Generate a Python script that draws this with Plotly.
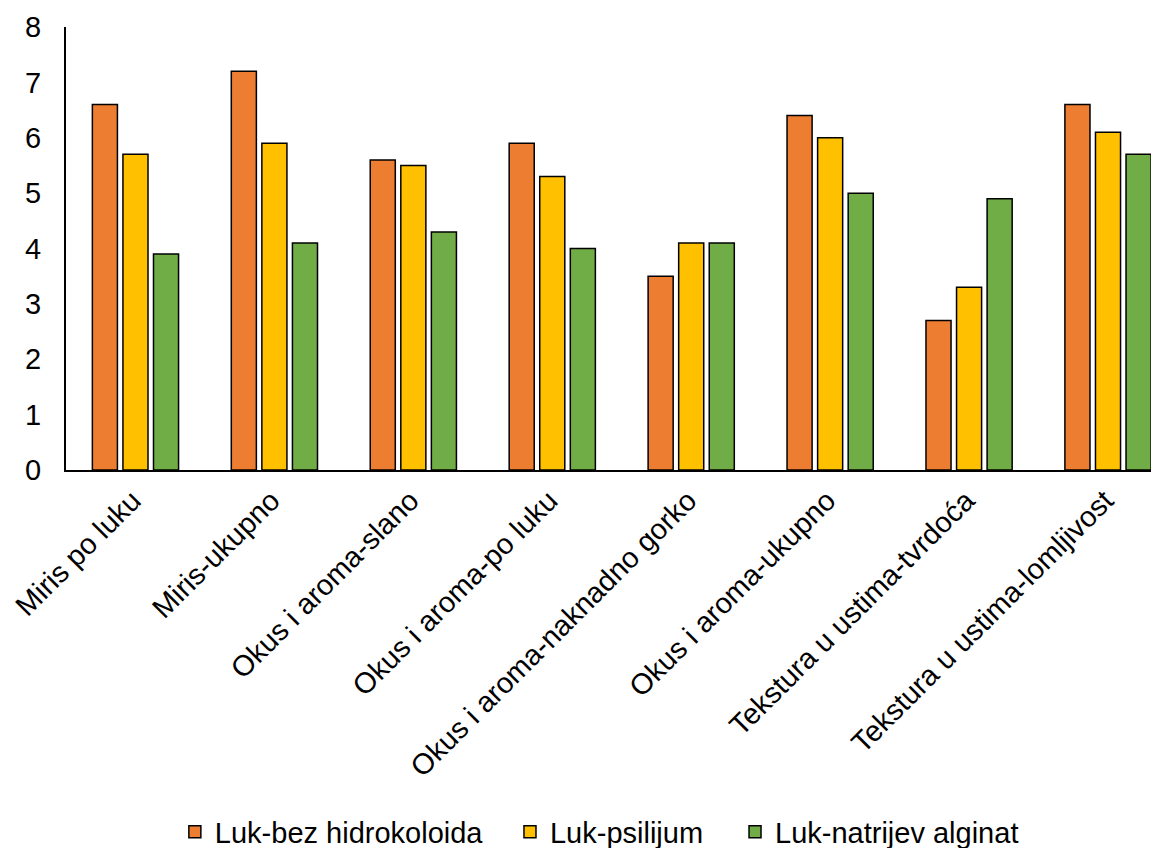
import plotly.graph_objects as go

categories = ["Miris po luku", "Miris-ukupno", "Okus i aroma-slano", "Okus i aroma-po luku",
              "Okus i aroma-naknadno gorko", "Okus i aroma-ukupno", "Tekstura u ustima-tvrdoća",
              "Tekstura u ustima-lomljivost"]
bez_hidrokoloida = [6.6, 7.2, 5.6, 5.9, 3.5, 6.4, 2.7, 6.6]
psilijum = [5.7, 5.9, 5.5, 5.3, 4.1, 6.0, 3.3, 6.1]
natrijev_alginat = [3.9, 4.1, 4.3, 4.0, 4.1, 5.0, 4.9, 5.7]
series_names = ["Luk-bez hidrokoloida", "Luk-psilijum", "Luk-natrijev alginat"]
colors = ["#ED7D31", "#FFC000", "#70AD47"]
legend_ids = ["legend", "legend2", "legend3"]
legend_x = [0.0996, 0.4062, 0.6121]

fig = go.Figure()
for name, vals, col, lg in zip(series_names, [bez_hidrokoloida, psilijum, natrijev_alginat], colors, legend_ids):
    fig.add_trace(go.Bar(x=categories, y=vals, name=name, legend=lg, showlegend=True,
                         marker=dict(color=col, line=dict(color="black", width=1.5))))

legend_common = dict(orientation="h", xanchor="left", y=-0.817, yanchor="middle",
                     font=dict(size=29), itemwidth=30, bgcolor="rgba(0,0,0,0)", visible=True)

fig.update_layout(
    width=1151, height=840,
    margin=dict(l=58, r=0, t=19, b=378, autoexpand=False),
    paper_bgcolor="white", plot_bgcolor="white",
    showlegend=True,
    barmode="group", bargap=0.34, bargroupgap=0.18,
    font=dict(family="Liberation Sans, Arial, sans-serif", color="black"),
    xaxis=dict(tickangle=-45, tickfont=dict(size=29), showline=True, linecolor="black", linewidth=2,
               range=[-0.5, 7.367], ticks="", showgrid=False, automargin=False, ticklabelshift=-3),
    yaxis=dict(range=[0, 8], dtick=1, tickfont=dict(size=29), showline=True, linecolor="black", linewidth=2,
               showgrid=False, ticks="", zeroline=False, automargin=False, ticklabelstandoff=17),
    legend=dict(x=legend_x[0], **legend_common),
    legend2=dict(x=legend_x[1], **legend_common),
    legend3=dict(x=legend_x[2], **legend_common),
)
fig.write_html("out.html")
